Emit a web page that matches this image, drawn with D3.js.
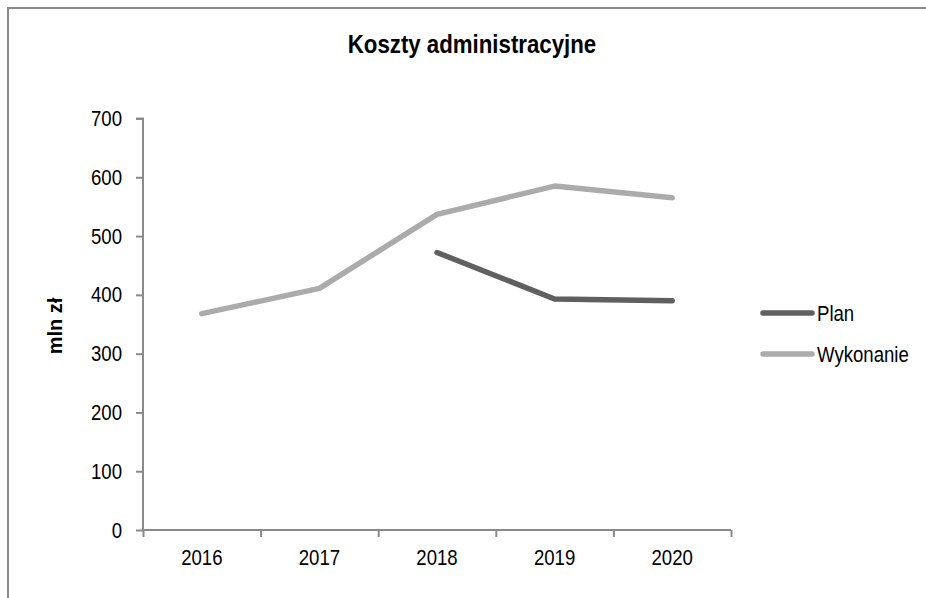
<!DOCTYPE html>
<html>
<head>
<meta charset="utf-8">
<script src="https://cdn.jsdelivr.net/npm/d3@7"></script>
<style>
  html, body { margin: 0; padding: 0; background: #fff; }
  svg { display: block; }
  text { font-family: "Liberation Sans", Arial, sans-serif; }
</style>
</head>
<body>
<svg id="chart" width="926" height="598"></svg>
<script>
const years = ["2016", "2017", "2018", "2019", "2020"];
const plan = [null, null, 472, 393, 390];
const wykonanie = [368, 411, 537, 585, 565];
const yTicks = [0, 100, 200, 300, 400, 500, 600, 700];
const seriesNames = ["Plan", "Wykonanie"];
const seriesColors = ["#606060", "#ababab"];
const title = "Koszty administracyjne";
const yLabel = "mln zł";

const NARROW = 0.845;
const svg = d3.select("#chart");

// outer border (extends beyond the visible area on right/bottom)
svg.append("rect")
  .attr("x", 8).attr("y", 8)
  .attr("width", 1000).attr("height", 1000)
  .attr("fill", "#fff")
  .attr("stroke", "#8a8a8a")
  .attr("stroke-width", 2);

const pLeft = 143, pRight = 731, pTop = 118.5, pBottom = 530;

const x = d3.scaleBand().domain(years).range([pLeft, pRight]);
const y = d3.scaleLinear().domain([0, 700]).range([pBottom, pTop]);

// title
svg.append("text")
  .attr("transform", "translate(472,53) scale(0.89,1)")
  .attr("text-anchor", "middle")
  .attr("font-weight", "bold")
  .attr("font-size", 25)
  .attr("fill", "#000")
  .text(title);

function narrowTexts(sel) {
  sel.each(function () {
    const t = d3.select(this);
    const tx = +t.attr("x") || 0;
    const ty = +t.attr("y") || 0;
    t.attr("x", 0).attr("y", 0)
      .attr("transform", `translate(${tx},${ty}) scale(${NARROW},1)`);
  });
}

// y axis
const yAxis = svg.append("g")
  .attr("transform", `translate(${pLeft},0)`)
  .call(d3.axisLeft(y).tickValues(yTicks).tickSize(7).tickPadding(14).tickFormat(d3.format("d")));
yAxis.select(".domain").attr("stroke", "#8a8a8a").attr("stroke-width", 2).attr("d", `M-7,${y(700)}H0V${y(0)}`);
yAxis.selectAll(".tick line").attr("stroke", "#8a8a8a").attr("stroke-width", 2);
yAxis.selectAll(".tick text").attr("font-size", 22).attr("fill", "#000").call(narrowTexts);

// x axis: boundary ticks
const xb = d3.scaleLinear().domain([0, years.length]).range([pLeft, pRight]);
const xAxisTicks = svg.append("g")
  .attr("transform", `translate(0,${pBottom})`)
  .call(d3.axisBottom(xb).tickValues(d3.range(0, years.length + 1)).tickSize(7).tickFormat(""));
xAxisTicks.select(".domain").attr("stroke", "#8a8a8a").attr("stroke-width", 2).attr("d", `M${pLeft},0H${pRight}`);
xAxisTicks.selectAll(".tick line").attr("stroke", "#8a8a8a").attr("stroke-width", 2);

// x axis labels
const xAxis = svg.append("g")
  .attr("transform", `translate(0,${pBottom})`)
  .call(d3.axisBottom(x).tickSize(0).tickPadding(19));
xAxis.select(".domain").remove();
xAxis.selectAll(".tick text").attr("font-size", 22).attr("fill", "#000").call(narrowTexts);

// y axis title
svg.append("text")
  .attr("transform", `translate(62,326) rotate(-90)`)
  .attr("text-anchor", "middle")
  .attr("font-weight", "bold")
  .attr("font-size", 20)
  .attr("fill", "#000")
  .text(yLabel);

// lines
const line = d3.line()
  .defined(d => d.v !== null)
  .x(d => x(d.year) + x.bandwidth() / 2)
  .y(d => y(d.v));

const seriesData = [plan, wykonanie];
seriesData.forEach((vals, i) => {
  const data = years.map((yr, j) => ({ year: yr, v: vals[j] }));
  svg.append("path")
    .datum(data)
    .attr("fill", "none")
    .attr("stroke", seriesColors[i])
    .attr("stroke-width", 5.5)
    .attr("stroke-linecap", "round")
    .attr("stroke-linejoin", "round")
    .attr("d", line);
});

// legend
const legendY = [313, 354];
seriesNames.forEach((name, i) => {
  svg.append("line")
    .attr("x1", 763).attr("x2", 812)
    .attr("y1", legendY[i]).attr("y2", legendY[i])
    .attr("stroke", seriesColors[i])
    .attr("stroke-width", 5.5)
    .attr("stroke-linecap", "round");
  svg.append("text")
    .attr("transform", `translate(817,${legendY[i] + 8}) scale(${NARROW},1)`)
    .attr("font-size", 22)
    .attr("fill", "#000")
    .text(name);
});
</script>
</body>
</html>
